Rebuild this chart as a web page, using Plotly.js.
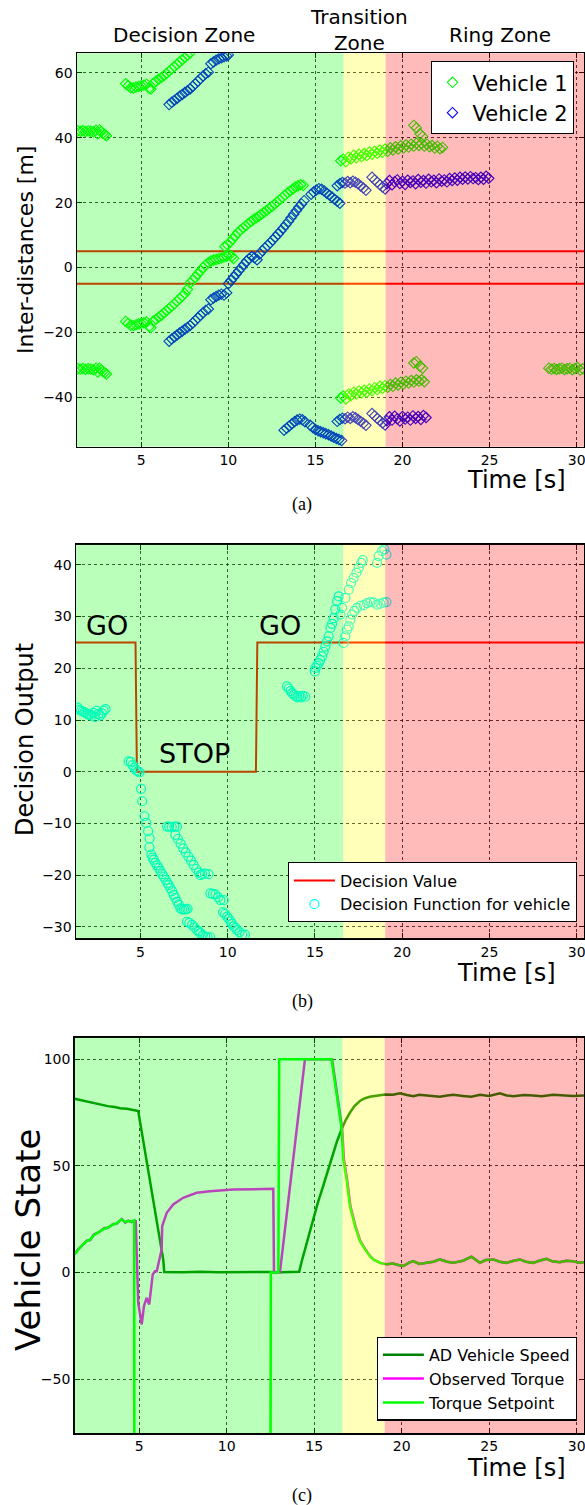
<!DOCTYPE html>
<html><head><meta charset="utf-8">
<script src="https://cdn.plot.ly/plotly-3.0.1.min.js"></script>
<style>html,body{margin:0;padding:0;background:#fff}#chart{width:585px;height:1505px}</style>
</head><body><div id="chart"></div><script>
// ---------- shared ----------
const zoneEdges = [16.62, 19.03];
const zoneNames = ['Decision Zone', 'Transition<br>Zone', 'Ring Zone'];
const xTicks = [5, 10, 15, 20, 25, 30];
const thresholdLines = [5, -5];

// ---------- (a) Inter-distances ----------
const v1aT = [1.35,1.5,1.65,1.8,1.95,2.1,2.25,2.4,2.5,2.6,2.7,2.8,2.9,3.0];
const v1aD = [42.1,42.0,42.2,41.9,42.1,42.0,41.8,42.3,41.2,42.4,41.8,41.4,41.0,40.6];
const v1bT = [1.35,1.5,1.65,1.8,1.95,2.1,2.25,2.4,2.5,2.6,2.7,2.8,2.9,3.0];
const v1bD = [-31.2,-31.3,-31.1,-31.4,-31.2,-31.3,-31.5,-31.0,-32.2,-31.0,-31.6,-32.0,-32.4,-32.8];
const v1cT = [4.1,4.25,4.4,4.55,4.7,4.85,5.0,5.15,5.3,5.45,5.55,5.7,5.85,6.0,6.15,6.3,6.45,6.6,6.75,6.9,7.05,7.2,7.35,7.5,7.65,7.8];
const v1cD = [56.6,56.0,55.4,55.3,55.6,55.8,56.0,56.2,56.5,55.2,55.0,56.8,57.4,58.0,58.5,59.1,59.8,60.5,61.2,61.9,62.6,63.3,64.0,64.7,65.4,66.1];
const v1dT = [4.1,4.25,4.4,4.55,4.7,4.85,5.0,5.15,5.3,5.45,5.55,5.7,5.85,6.0,6.15,6.3,6.45,6.6,6.75,6.9,7.05,7.2,7.35,7.5,7.65,7.8,7.95,8.1,8.25,8.4,8.55,8.7,8.85,9.0,9.15,9.3,9.45,9.6,9.75,9.9,10.05,10.2,10.3];
const v1dD = [-16.6,-17.2,-17.8,-17.9,-17.6,-17.4,-17.2,-17.0,-16.8,-18.2,-18.5,-16.5,-15.9,-15.3,-14.7,-14.0,-13.3,-12.6,-11.9,-11.2,-10.4,-9.6,-8.8,-8.0,-6.7,-4.8,-3.9,-3.0,-2.0,-1.0,0.0,0.8,1.5,2.0,2.3,2.5,2.7,2.9,3.2,3.5,3.8,3.4,2.8];
const v1eT = [9.8,9.95,10.1,10.25,10.4,10.55,10.7,10.85,11.0,11.15,11.3,11.45,11.6,11.75,11.9,12.05,12.2,12.35,12.5,12.65,12.8,12.95,13.1,13.25,13.4,13.55,13.7,13.85,14.0,14.15,14.3];
const v1eD = [6.5,7.0,7.8,8.8,9.8,10.8,11.6,12.2,12.9,13.6,14.2,14.8,15.3,15.8,16.4,17.0,17.6,18.2,18.8,19.5,20.2,20.9,21.6,22.3,23.0,23.6,24.2,24.8,25.2,25.5,25.3];
const v1fT = [16.45,16.6,16.75,16.9,17.05,17.2,17.35,17.5,17.65,17.8,17.95,18.1,18.25,18.4,18.55,18.7,18.85,19.0,19.15,19.3,19.45,19.6,19.75,19.9,20.05,20.2,20.35,20.5,20.65,20.8,20.95,21.1,21.25,21.4,21.55,21.7,21.85,22.0,22.15,22.3,20.65,20.8,21.0,21.15];
const v1fD = [32.9,33.4,32.6,34.0,33.5,34.6,33.8,34.9,34.2,35.1,34.5,35.6,34.9,35.8,35.2,36.2,35.5,36.5,35.8,36.9,36.2,37.2,36.5,37.5,36.8,37.8,37.1,38.0,37.4,38.3,37.6,38.2,37.4,38.0,37.2,37.6,36.8,37.4,36.6,37.0,43.8,43.0,41.2,40.4];
const v1gT = [16.45,16.6,16.75,16.9,17.05,17.2,17.35,17.5,17.65,17.8,17.95,18.1,18.25,18.4,18.55,18.7,18.85,19.0,19.15,19.3,19.45,19.6,19.75,19.9,20.05,20.2,20.35,20.5,20.65,20.8,20.95,21.1,21.25,20.65,20.8,21.0,21.15];
const v1gD = [-40.2,-39.6,-40.5,-39.0,-39.4,-38.4,-39.0,-38.0,-38.6,-37.8,-38.4,-37.4,-38.0,-37.0,-37.6,-36.6,-37.2,-36.4,-36.9,-36.0,-36.6,-35.6,-36.2,-35.3,-35.9,-35.0,-35.6,-34.8,-35.3,-34.6,-35.0,-34.6,-35.2,-29.4,-29.0,-30.4,-31.0];
const v1hT = [28.4,28.55,28.7,28.85,29.0,29.15,29.3,29.45,29.6,29.75,29.9,30.05,30.2,30.35];
const v1hD = [-31.0,-31.3,-31.1,-31.4,-31.2,-31.0,-31.4,-31.2,-31.0,-31.5,-31.1,-30.8,-31.6,-31.2];

const v2aT = [6.6,6.75,6.9,7.05,7.2,7.35,7.5,7.65,7.8,7.95,8.1,8.25,8.4,8.55,8.7,8.85,9.0,9.15,9.3,9.45,9.6,9.75,9.9,10.0];
const v2aD = [50.2,50.9,51.5,52.1,52.8,53.3,53.9,54.5,55.0,55.8,56.6,57.4,58.2,59.0,59.7,60.2,62.8,63.3,63.9,64.3,64.6,64.9,65.2,65.5];
const v2bT = [6.6,6.75,6.9,7.05,7.2,7.35,7.5,7.65,7.8,7.95,8.1,8.25,8.4,8.55,8.7,8.85,9.0,9.15,9.3,9.45,9.6,9.75,9.9];
const v2bD = [-22.7,-22.0,-21.4,-20.8,-20.2,-19.6,-19.0,-18.5,-17.9,-17.1,-16.3,-15.5,-14.7,-13.9,-13.2,-12.8,-9.9,-9.4,-8.9,-8.5,-8.2,-8.5,-7.8];
const v2cT = [10.0,10.15,10.3,10.45,10.6,10.75,10.9,11.05,11.2,11.35,11.5,11.65,11.8,11.95,12.1,12.25,12.4,12.55,12.7,12.85,13.0,13.15,13.3,13.45,13.6,13.75,13.9,14.05,14.2,14.35];
const v2cD = [-5.0,-4.0,-3.0,-2.0,-1.0,0.0,1.0,2.0,2.8,3.4,3.0,2.4,4.2,5.2,6.0,6.8,7.6,8.5,9.4,10.3,11.2,12.2,13.2,14.2,15.3,16.4,17.5,18.6,19.6,20.6];
const v2dT = [14.75,14.9,15.05,15.2,15.35,15.5,15.65,15.8,15.95,16.1,16.25,16.4,16.25,16.4,16.55,16.7,16.85,17.0,17.15,17.3,17.45,17.6,17.75,17.9,18.25,18.4,18.55,18.7,18.85,19.0];
const v2dD = [22.6,23.3,23.9,24.3,24.1,23.6,22.9,22.3,21.7,21.0,20.4,19.8,25.2,25.8,26.2,26.0,26.5,26.1,26.6,26.3,25.8,25.1,24.5,23.8,27.8,27.0,26.3,25.5,24.8,24.2];
const v2eT = [19.1,19.25,19.4,19.55,19.7,19.85,20.0,20.15,20.3,20.45,20.6,20.75,20.9,21.05,21.2,21.35,21.5,21.65,21.8,21.95,22.1,22.25,22.4,22.55,22.7,22.85,23.0,23.15,23.3,23.45,23.6,23.75,23.9,24.05,24.2,24.35,24.5,24.65,24.8,24.95];
const v2eD = [25.8,26.8,25.5,26.4,27.0,25.9,26.6,25.6,26.9,26.2,26.7,25.8,27.1,26.3,26.8,26.0,27.2,26.4,26.9,26.1,27.3,26.6,27.0,26.4,27.4,26.8,27.6,26.9,27.8,27.2,27.9,27.3,28.0,27.4,27.7,27.1,27.8,27.2,28.1,27.5];
const v2fT = [13.2,13.35,13.5,13.65,13.8,13.95,14.1,14.25,14.4,14.7,14.85,15.0,15.15,15.3,15.45,15.6,15.75,15.9,16.05,16.2,16.35,16.5];
const v2fD = [-50.1,-49.5,-48.8,-48.1,-47.5,-47.0,-46.7,-46.9,-47.5,-48.6,-49.3,-49.9,-50.3,-50.6,-50.9,-51.2,-51.5,-51.9,-52.3,-52.7,-53.0,-53.3];
const v2gT = [16.25,16.4,16.55,16.7,16.85,17.0,17.15,17.3,17.45,17.6,17.75,17.9,18.25,18.4,18.55,18.7,18.85,19.0,19.1,19.25,19.4,19.55,19.7,19.85,20.0,20.15,20.3,20.45,20.6,20.75,20.9,21.05,21.2,21.35];
const v2gD = [-47.4,-46.8,-46.4,-46.6,-46.1,-46.5,-46.0,-46.3,-46.8,-47.4,-48.0,-48.6,-45.0,-45.7,-46.5,-47.2,-47.9,-48.5,-47.2,-46.0,-47.0,-45.8,-46.6,-47.3,-45.9,-46.7,-46.1,-47.0,-45.7,-46.5,-45.9,-46.8,-45.6,-46.2];

// ---------- (b) Decision ----------
const decisionT = [1.3, 4.72, 4.8, 11.62, 11.7, 30.42];
const decisionV = [25, 25, 0, 0, 25, 25];
const dfAT = [1.4,1.5,1.6,1.7,1.8,1.9,2.0,2.1,2.2,2.3,2.4,2.5,2.6,2.7,2.8,2.9,3.0];
const dfAV = [12.4,12.0,11.8,11.6,11.5,11.3,11.1,11.0,10.8,11.4,10.6,11.8,11.2,10.9,11.3,11.8,12.1];
const dfBT = [4.33,4.45,4.55,4.65,4.75,4.85,4.95,5.04,5.1,5.23,5.33,5.44,5.53,5.52,5.63,5.7,5.76,5.85,5.95,6.05,6.15,6.25,6.34,6.45,6.55,6.62,6.72,6.82,6.91,7.0,7.1,7.2,7.29,7.39,7.5,7.6,7.7,7.67,7.8,7.96,8.1,8.25,8.35,8.44,8.58,8.72,8.85,9.0];
const dfBV = [2.0,1.9,1.3,0.8,0.3,0.1,-0.1,-3.3,-5.7,-8.6,-9.9,-11.5,-12.9,-14.6,-16.0,-16.6,-17.0,-17.6,-18.1,-18.6,-19.2,-19.8,-20.3,-20.9,-21.5,-21.9,-22.5,-23.1,-23.8,-24.4,-25.1,-25.7,-26.4,-26.6,-26.6,-26.6,-26.5,-29.0,-29.2,-29.6,-30.1,-30.6,-30.9,-31.2,-31.6,-31.9,-32.0,-32.0];
const dfCT = [6.53,6.65,6.8,6.95,7.1,7.0,7.15,7.3,7.45,7.6,7.75,7.9,8.05,8.2,8.35,8.44,8.54,8.7,8.9];
const dfCV = [-10.6,-10.6,-10.7,-10.6,-10.6,-12.2,-13.0,-13.9,-14.8,-15.6,-16.4,-17.2,-18.0,-18.8,-19.5,-20.0,-19.8,-19.7,-19.8];
const dfDT = [9.01,9.15,9.3,9.45,9.58,9.77,9.74,9.85,9.97,10.06,10.16,10.25,10.35,10.45,10.54,10.68,10.83,11.0];
const dfDV = [-23.5,-23.6,-23.7,-24.3,-24.8,-24.8,-27.2,-27.5,-28.0,-28.4,-28.9,-29.4,-29.9,-30.2,-30.6,-31.0,-31.5,-31.5];
const dfET = [13.4,13.5,13.6,13.7,13.8,13.9,14.0,14.1,14.2,14.3,14.45];
const dfEV = [16.5,16.1,15.6,15.2,14.9,14.6,14.4,14.6,14.4,14.7,14.5];
const dfFT = [15.0,15.03,15.12,15.22,15.3,15.41,15.5,15.6,15.7,15.79,15.89,15.98,16.08,16.17,16.27,16.36];
const dfFV = [19.4,20.1,20.5,21.0,21.6,22.3,23.2,24.2,25.2,26.2,27.8,28.6,29.7,31.4,33.0,33.9];
const dfGT = [16.46,16.56,16.75,16.94,17.07,17.22,17.38,17.51,17.65,17.74,18.56,18.65,18.85,18.98,19.1];
const dfGV = [30.4,31.7,33.6,35.2,36.5,37.5,38.5,39.4,40.4,40.9,40.4,41.7,42.7,43.0,42.0];
const dfHT = [16.65,16.75,16.84,16.94,17.03,17.13,17.26,17.41,17.61,17.8,17.99,18.18,18.37,18.56,18.75,18.94,19.1];
const dfHV = [24.9,26.2,27.5,28.1,29.4,30.4,31.1,31.7,32.1,32.2,32.6,32.8,32.7,32.3,32.5,32.7,32.8];

// ---------- (c) Vehicle state ----------
const speedT = [1.3,1.8,2.3,2.75,3.2,3.6,3.9,4.3,4.6,4.94,6.37,6.43,7.5,8.5,9.5,10.5,11.5,12.5,13.04,13.6,14.14,14.28,14.6,14.94,15.2,15.51,15.8,16.09,16.3,16.56,16.8,17.04,17.3,17.61,17.9,18.18,18.6,19.04,19.5,19.9,20.3,20.66,21.0,21.42,21.8,22.18,22.6,22.94,23.5,23.99,24.47,25.0,25.61,26.0,26.37,27.0,27.51,28.0,28.66,29.2,29.8,30.42];
const speedV = [81.5,80.5,79.8,78.8,78.0,77.6,77.0,76.8,76.3,75.7,6,0.2,0.1,0.3,0.1,0.2,0,0.2,0.1,0.2,0.3,5,15,24.9,32.5,40.5,48.5,56.1,61.5,67,71.5,74.9,78,80.4,81.7,82.4,82.9,83.5,83.3,84.0,83.2,82.7,83.3,83.1,82.6,82.4,83.0,83.3,82.8,82.4,83.3,82.8,84.0,83.0,82.7,83.2,83.0,82.6,83.3,82.9,82.7,83.0];
const obsT = [1.3,1.5,1.7,2.0,2.2,2.4,2.75,3.0,3.2,3.51,3.7,4.0,4.2,4.37,4.55,4.72,4.8,4.94,5.14,5.27,5.42,5.57,5.77,5.9,6.0,6.18,6.28,6.31,6.57,6.94,7.51,8.28,9.04,10.37,11.51,12.66,12.7,13.04,14.47,16.02,16.6,16.7,16.88,17.07,17.36,17.64,17.93,18.2,18.4,18.77,19.15,19.5,19.8,20.09,20.4,20.66,21.0,21.42,21.8,22.18,22.6,22.94,23.5,23.99,24.2,24.47,24.8,25.23,25.6,25.99,26.4,26.75,27.1,27.51,27.9,28.28,28.6,29.04,29.4,29.8,30.1,30.42];
const obsV = [8.6,10.8,12.3,14.9,15.2,17.8,19.2,20.8,20.8,22.7,22.8,25.1,23.4,24.3,23.6,24.2,24.0,-14.2,-24.4,-15.8,-11.9,-15.0,-0.9,0.6,0.6,7.6,10.8,21.7,28,31.9,35,37.4,38.1,38.9,39.2,39.2,0,0,100,100,67.2,53,43.6,31.1,21.7,14.7,10.8,7.6,6.0,4.5,3.8,4.2,3.5,3.0,4.5,5.3,4.0,4.5,5.0,6.1,5.0,4.5,5.5,7.4,6.0,4.5,5.8,6.1,5.0,4.5,5.5,6.1,5.0,4.5,5.6,6.4,5.2,4.8,5.5,5.3,4.6,4.8];
const setT = [1.3,1.5,1.7,2.0,2.2,2.4,2.75,3.0,3.2,3.51,3.7,4.0,4.2,4.37,4.55,4.71,4.72,12.5,12.52,12.95,13.0,15.99,16.57,16.66,16.85,17.04,17.33,17.61,17.9,18.18,18.4,18.75,19.13,19.5,19.8,20.09,20.4,20.66,21.0,21.42,21.8,22.18,22.6,22.94,23.5,23.99,24.2,24.47,24.8,25.23,25.6,25.99,26.4,26.75,27.1,27.51,27.9,28.28,28.6,29.04,29.4,29.8,30.1,30.42];
const setV = [8.4,10.5,12.5,14.7,15.5,17.5,19.4,20.5,21.0,22.5,23.0,24.9,23.6,24.1,23.8,24.4,-100,-100,0,0,100,100,67.2,53,43.6,31.1,21.7,14.7,10.8,7.6,6.0,4.5,3.8,4.2,3.5,3.0,4.5,5.3,4.0,4.5,5.0,6.1,5.0,4.5,5.5,7.4,6.0,4.5,5.8,6.1,5.0,4.5,5.5,6.1,5.0,4.5,5.6,6.4,5.2,4.8,5.5,5.3,4.6,4.8];

// ---------- helpers ----------
const cat = (...a) => [].concat(...a);
const W = 585, H = 1505;
const py = p => 1 - p / H;      // pixel row -> paper y
const px = p => p / W;          // pixel col -> paper x

const traces = [
  {x: cat(v1aT,v1bT,v1cT,v1dT,v1eT,v1fT,v1gT,v1hT), y: cat(v1aD,v1bD,v1cD,v1dD,v1eD,v1fD,v1gD,v1hD),
   type:'scatter', mode:'markers', name:'Vehicle 1', xaxis:'x', yaxis:'y', legend:'legend',
   marker:{symbol:'diamond-open', size:8, color:'#00ff00', line:{width:1.1}}},
  {x: cat(v2aT,v2bT,v2cT,v2dT,v2eT,v2fT,v2gT), y: cat(v2aD,v2bD,v2cD,v2dD,v2eD,v2fD,v2gD),
   type:'scatter', mode:'markers', name:'Vehicle 2', xaxis:'x', yaxis:'y', legend:'legend',
   marker:{symbol:'diamond-open', size:8, color:'#0000ff', line:{width:1.1}}},
  {x: decisionT, y: decisionV, type:'scatter', mode:'lines', name:'Decision Value',
   xaxis:'x2', yaxis:'y2', legend:'legend2', line:{color:'#ff0000', width:2}},
  {x: cat(dfAT,dfBT,dfCT,dfDT,dfET,dfFT,dfGT,dfHT), y: cat(dfAV,dfBV,dfCV,dfDV,dfEV,dfFV,dfGV,dfHV),
   type:'scatter', mode:'markers', name:'Decision Function for vehicle',
   xaxis:'x2', yaxis:'y2', legend:'legend2',
   marker:{symbol:'circle-open', size:9, color:'#00ffff', line:{width:1.2}}},
  {x: speedT, y: speedV, type:'scatter', mode:'lines', name:'AD Vehicle Speed',
   xaxis:'x3', yaxis:'y3', legend:'legend3', line:{color:'#008000', width:2.5}},
  {x: obsT, y: obsV, type:'scatter', mode:'lines', name:'Observed Torque',
   xaxis:'x3', yaxis:'y3', legend:'legend3', line:{color:'#ff00ff', width:2.5}},
  {x: setT, y: setV, type:'scatter', mode:'lines', name:'Torque Setpoint',
   xaxis:'x3', yaxis:'y3', legend:'legend3', line:{color:'#00ff00', width:2.5}}
];

const tickFont = {family:'DejaVu Sans', size:14, color:'#000'};
function axisBase(extra) {
  return Object.assign({
    showline:true, linecolor:'#000', linewidth:1.5, mirror:'ticks',
    ticks:'inside', ticklen:5, tickwidth:1, tickcolor:'#000',
    showgrid:true, gridcolor:'rgba(0,0,0,0.8)', griddash:'dot', gridwidth:1,
    zeroline:false, tickfont:tickFont, fixedrange:true, ticklabeloverflow:'allow'
  }, extra);
}
const xRange = [1.31, 30.42];

const layout = {
  width:W, height:H, margin:{l:0, r:0, t:0, b:0, pad:0},
  paper_bgcolor:'#fff', plot_bgcolor:'#fff', showlegend:true,
  font:{family:'DejaVu Sans', color:'#000'},
  xaxis: axisBase({domain:[px(77), px(584)], anchor:'y', range:xRange, tickvals:xTicks}),
  yaxis: axisBase({domain:[py(446.7), py(53.3)], anchor:'x', range:[-55.2, 66], dtick:20}),
  xaxis2: axisBase({domain:[px(76), px(584)], anchor:'y2', range:xRange, tickvals:xTicks}),
  yaxis2: axisBase({domain:[py(938.3), py(544.7)], anchor:'x2', range:[-32.2, 43.9], dtick:10}),
  xaxis3: axisBase({domain:[px(74.7), px(584)], anchor:'y3', range:xRange, tickvals:xTicks}),
  yaxis3: axisBase({domain:[py(1433), py(1037.7)], anchor:'x3', range:[-75.3, 110.1], dtick:50}),
  legend: {x:px(574.3), xanchor:'right', y:py(61), yanchor:'top', bgcolor:'#fff',
           bordercolor:'#000', borderwidth:1.2, font:{family:'DejaVu Sans', size:21, color:'#000'}},
  legend2: {x:px(576.7), xanchor:'right', y:py(922.3), yanchor:'bottom', bgcolor:'#fff', itemwidth:41,
           bordercolor:'#000', borderwidth:1.2, font:{family:'DejaVu Sans', size:16, color:'#000'}},
  legend3: {x:px(576.7), xanchor:'right', y:py(1420.7), yanchor:'bottom', bgcolor:'#fff', itemwidth:41,
           bordercolor:'#000', borderwidth:1.2, font:{family:'DejaVu Sans', size:16, color:'#000'}},
  shapes: [],
  annotations: []
};

// threshold lines (a)
thresholdLines.forEach(v => layout.shapes.push({type:'line', xref:'x domain', yref:'y', x0:0, x1:1, y0:v, y1:v,
  layer:'below', line:{color:'#ff0000', width:2}}));

// zone overlays on each subplot
const zoneColors = ['rgb(0,255,0)', 'rgb(255,255,0)', 'rgb(255,0,0)'];
['', '2', '3'].forEach(s => {
  const bounds = [0, zoneEdges[0], zoneEdges[1], 40];
  for (let i = 0; i < 3; i++) {
    layout.shapes.push({type:'rect', xref:'x'+s, yref:'y'+s+' domain', x0:bounds[i], x1:bounds[i+1], y0:0, y1:1,
      layer:'above', fillcolor:zoneColors[i], opacity:0.27, line:{width:0}});
  }
});

const A = (text, x, y, size, opts) => layout.annotations.push(Object.assign({
  text, x:px(x), y:py(y), xref:'paper', yref:'paper', showarrow:false,
  xanchor:'center', yanchor:'middle', font:{family:'DejaVu Sans', size, color:'#000'}}, opts||{}));

// zone labels
A(zoneNames[0], 184, 35, 20);
A(zoneNames[1], 358.8, 30, 20);
A(zoneNames[2], 500, 35, 20);
// axis titles
A('Inter-distances [m]', 26, 250, 22, {textangle:-90});
A('Decision Output', 25, 740, 24, {textangle:-90});
A('Vehicle State', 28, 1240, 34, {textangle:-90});
A('Time [s]', 516, 480, 24);
A('Time [s]', 506.5, 973, 24);
A('Time [s]', 516, 1467.5, 24);
// in-plot labels
A('GO', 107, 626, 27);
A('GO', 279.5, 626, 27);
A('STOP', 194, 753, 27);
// captions
const capFont = 'Liberation Serif';
A('(a)', 302, 505, 18, {font:{family:capFont, size:18, color:'#000'}});
A('(b)', 302.7, 1001, 18, {font:{family:capFont, size:18, color:'#000'}});
A('(c)', 302, 1495, 18, {font:{family:capFont, size:18, color:'#000'}});

Plotly.newPlot('chart', traces, layout, {staticPlot:true, displayModeBar:false});
</script></body></html>
